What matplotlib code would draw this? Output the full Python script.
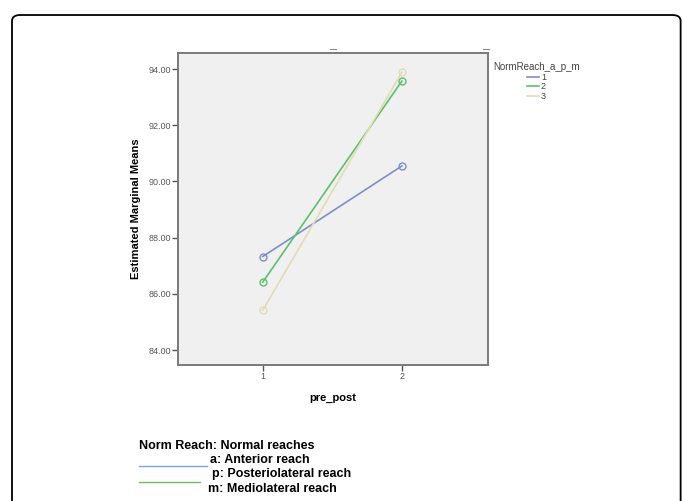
import matplotlib
matplotlib.use("Agg")
import matplotlib.pyplot as plt
from matplotlib.lines import Line2D
from matplotlib.patches import FancyBboxPatch

plt.rcParams["font.family"] = ["Liberation Sans", "DejaVu Sans"]

# data
pre_post = [1, 2]
groups = ["1", "2", "3"]
means = {
    "1": [87.33, 90.55],
    "2": [86.42, 93.57],
    "3": [85.42, 93.88],
}
colors = {"1": "#7d8fc9", "2": "#5cbf6c", "3": "#e2dcb4"}
y_ticks = [84, 86, 88, 90, 92, 94]

W, H = 683, 501
fig = plt.figure(figsize=(W / 100, H / 100), dpi=100)

# rounded outer frame
frame = FancyBboxPatch((12 / W, -0.05), (682 - 12) / W - 0.002, 1 - 15 / H + 0.05,
                       boxstyle="round,pad=0,rounding_size=0.012",
                       transform=fig.transFigure, fill=False, ec="black", lw=1.3)
fig.add_artist(frame)

ax = fig.add_axes([178 / W, 1 - 365 / H, 310 / W, 312 / H])
ax.set_facecolor("#f0f0f0")
for g in groups:
    ax.plot(pre_post, means[g], color=colors[g], lw=1.2, marker="o", ms=5,
            mfc="none", mec=colors[g], mew=1.0, label=g)

ax.set_xlim(0.39, 2.62)
ax.set_ylim(83.47, 94.57)
ax.set_xticks(pre_post)
ax.set_yticks(y_ticks)
ax.set_yticklabels([f"{v:.2f}" for v in y_ticks])
ax.tick_params(labelsize=6.5, colors="#555555", length=4, width=1, pad=1)
for s in ax.spines.values():
    s.set_color("#7a7a7a")
    s.set_linewidth(1.4)
ax.set_xlabel("pre_post", fontsize=8, fontweight="bold", labelpad=9)
ax.set_ylabel("Estimated Marginal Means", fontsize=8, fontweight="bold", labelpad=5)

# small tick dashes above the plot
for px in (333, 486):
    fig.add_artist(Line2D([(px - 3) / W, (px + 3) / W], [1 - 49 / H, 1 - 49 / H],
                          color="#888888", lw=0.8))

leg = fig.legend(loc="upper left", bbox_to_anchor=(487 / W, 1 - 56 / H),
                 title="NormReach_a_p_m", fontsize=6.5, title_fontsize=7,
                 frameon=False, handlelength=1.3, handletextpad=0.2,
                 labelspacing=0.05, borderpad=0.2)
leg.get_title().set_color("#444444")
for t in leg.get_texts():
    t.set_color("#444444")
for h in leg.legend_handles:
    h.set_marker("")

# footnote block
fs = 9
fig.text(139 / W, 1 - 446 / H, "Norm Reach: Normal reaches", fontsize=fs,
         fontweight="bold", va="center")
fig.text(210 / W, 1 - 460 / H, "a: Anterior reach", fontsize=fs,
         fontweight="bold", va="center")
fig.text(212 / W, 1 - 474 / H, "p: Posteriolateral reach", fontsize=fs,
         fontweight="bold", va="center")
fig.text(208 / W, 1 - 489 / H, "m: Mediolateral reach", fontsize=fs,
         fontweight="bold", va="center")
fig.add_artist(Line2D([139 / W, 207 / W], [1 - 466 / H] * 2, color="#7aa4e8", lw=1.0))
fig.add_artist(Line2D([139 / W, 200 / W], [1 - 482 / H] * 2, color="#6cc15f", lw=1.0))

fig.savefig("out.png", dpi=100)
